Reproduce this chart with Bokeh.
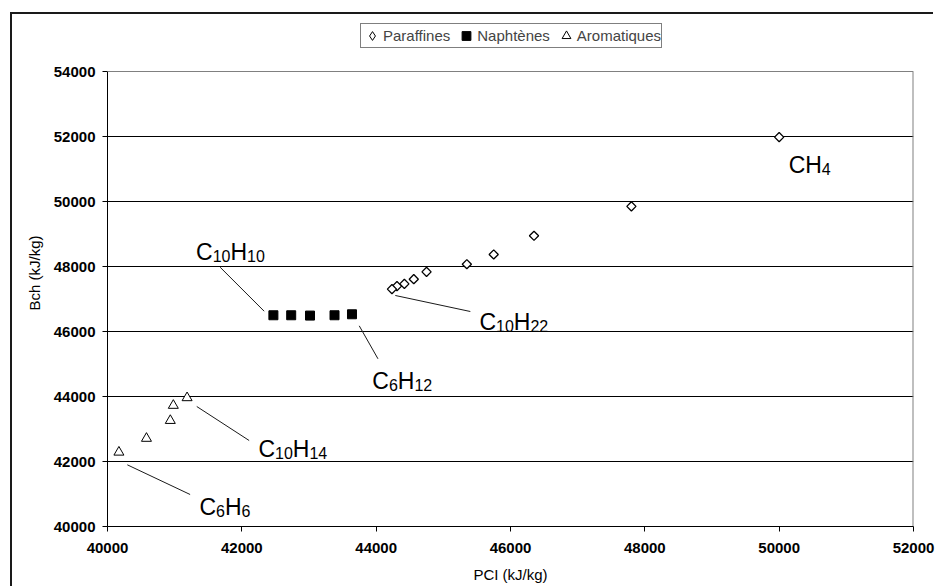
import numpy as np
from bokeh.plotting import figure
from bokeh.models import (Range1d, FixedTicker, Legend, LegendItem, ColumnDataSource, Span)
from bokeh.core.properties import value
from bokeh.embed import file_html
from bokeh.resources import INLINE

# ---- data ----
par_pci = [50000, 47800, 46350, 45750, 45350, 44750, 44560, 44420, 44310, 44235]
par_bch = [51980, 49850, 48945, 48370, 48070, 47835, 47610, 47465, 47395, 47305]
nap_pci = [42470, 42735, 43015, 43380, 43640]
nap_bch = [46500, 46500, 46490, 46500, 46530]
aro_pci = [40170, 40580, 40935, 40980, 41185]
aro_bch = [42285, 42710, 43260, 43725, 43960]

series_names = ["Paraffines", "Naphtènes", "Aromatiques"]
x_ticks = [40000, 42000, 44000, 46000, 48000, 50000, 52000]
y_ticks = [40000, 42000, 44000, 46000, 48000, 50000, 52000, 54000]

# annotation labels: parts (text, is_subscript) and anchor in data units
label_parts = [
    [("C", 0), ("H", 0), ("4", 1)],
    [("C", 0), ("10", 1), ("H", 0), ("22", 1)],
    [("C", 0), ("10", 1), ("H", 0), ("10", 1)],
    [("C", 0), ("6", 1), ("H", 0), ("12", 1)],
    [("C", 0), ("10", 1), ("H", 0), ("14", 1)],
    [("C", 0), ("6", 1), ("H", 0), ("6", 1)],
]
label_x = [50141, 45537, 41319, 43942, 42247, 41368]
label_y = [51108, 46286, 48440, 44492, 42391, 40594]

lead_x0 = [44285, 41677, 43748, 41329, 40295]
lead_y0 = [47108, 47978, 46175, 43692, 41898]
lead_x1 = [45402, 42332, 44027, 42109, 41230]
lead_y1 = [46615, 46625, 45160, 42646, 40985]

FONT = "Liberation Sans"
MAIN_FS = 23
SUB_FS = 16
ADV = {"C": 0.722, "H": 0.722}

# y range extends above the last tick so the legend can sit inside the frame
p = figure(width=923, height=574, output_backend="svg", toolbar_location=None,
           x_range=Range1d(x_ticks[0], x_ticks[-1]),
           y_range=Range1d(y_ticks[0], 55600))
# chart-area outer border: only its top and left edges are inside the window
p.styles = {"margin-left": "12px", "margin-top": "14px",
            "box-shadow": "-2px -2px 0px 0px #1a1a1a"}
p.min_border_left = 95
p.min_border_right = 22
p.min_border_top = 5
p.min_border_bottom = 62
p.background_fill_color = "white"
p.border_fill_color = "white"
p.outline_line_color = None

for ax in (p.xaxis[0], p.yaxis[0]):
    ax.axis_line_color = "black"
    ax.major_tick_line_color = "black"
    ax.major_tick_out = 5
    ax.major_tick_in = 0
    ax.minor_tick_line_color = None
    ax.major_label_text_font = FONT
    ax.major_label_text_font_size = "15px"
    ax.major_label_text_font_style = "bold"
    ax.major_label_text_color = "black"
    ax.axis_label_text_font = FONT
    ax.axis_label_text_font_size = "15px"
    ax.axis_label_text_font_style = "normal"
    ax.axis_label_text_color = "black"

p.xaxis.ticker = FixedTicker(ticks=x_ticks)
p.yaxis.ticker = FixedTicker(ticks=y_ticks)
p.yaxis.bounds = (y_ticks[0], y_ticks[-1])
p.xaxis.major_label_standoff = 11
p.yaxis.major_label_standoff = 7
p.xaxis.axis_label = "PCI (kJ/kg)"
p.yaxis.axis_label = "Bch (kJ/kg)"
p.xaxis.axis_label_standoff = 10
p.yaxis.axis_label_standoff = 8

p.xgrid.visible = False
p.ygrid.ticker = FixedTicker(ticks=y_ticks[1:-1])
p.ygrid.grid_line_color = "black"
p.ygrid.grid_line_width = 1

# plot-area border: grey top and right edges
p.add_layout(Span(location=y_ticks[-1], dimension="width", line_color="#808080", line_width=1))
p.segment(x0=[x_ticks[-1]], y0=[y_ticks[0]], x1=[x_ticks[-1]], y1=[y_ticks[-1]],
          line_color="#808080", line_width=2)

# leader lines
p.segment(x0=lead_x0, y0=lead_y0, x1=lead_x1, y1=lead_y1, line_color="#1a1a1a", line_width=1)

# legend swatch for the paraffins (the legend does not rotate markers); drawn
# small at the same points so the rotated squares drawn next cover it fully
r_par_key = p.scatter(par_pci, par_bch, marker="diamond", size=5,
                      fill_color="white", line_color="black", line_width=1)
r_par = p.scatter(par_pci, par_bch, marker="square", angle=np.pi / 4, size=6.5,
                  fill_color="white", line_color="black", line_width=1.3)
r_nap = p.scatter(nap_pci, nap_bch, marker="square", size=9,
                  fill_color="black", line_color="black", line_width=1)
r_aro = p.scatter(aro_pci, aro_bch, marker="triangle", size=10,
                  fill_color="white", line_color="black", line_width=1)

# text labels with subscripts
tx, ty, tt, dx, dy, fs = [], [], [], [], [], []
for parts, lx, ly in zip(label_parts, label_x, label_y):
    off = 0.0
    for t, sub in parts:
        size = SUB_FS if sub else MAIN_FS
        tx.append(lx)
        ty.append(ly)
        tt.append(t)
        dx.append(off)
        dy.append(4 if sub else 0)
        fs.append(f"{size}px")
        off += sum(ADV.get(c, 0.556) for c in t) * size
src = ColumnDataSource(dict(x=tx, y=ty, t=tt, dx=dx, dy=dy, fs=fs))
p.text(x="x", y="y", text="t", x_offset="dx", y_offset="dy", text_font_size="fs",
       text_font=value(FONT), text_color="black", text_baseline="alphabetic",
       text_align="left", source=src)

legend = Legend(items=[LegendItem(label=series_names[0], renderers=[r_par_key]),
                       LegendItem(label=series_names[1], renderers=[r_nap]),
                       LegendItem(label=series_names[2], renderers=[r_aro])],
                orientation="horizontal", location=(253, 478))
legend.label_text_font = FONT
legend.label_text_font_size = "15px"
legend.label_standoff = 0
legend.spacing = 5
legend.padding = 0
legend.margin = 0
legend.glyph_width = 22
legend.glyph_height = 23
legend.label_height = 17
legend.border_line_color = "black"
legend.border_line_width = 1
legend.background_fill_color = "white"
legend.background_fill_alpha = 1
p.add_layout(legend)

open("out.html", "w").write(file_html(p, INLINE))
